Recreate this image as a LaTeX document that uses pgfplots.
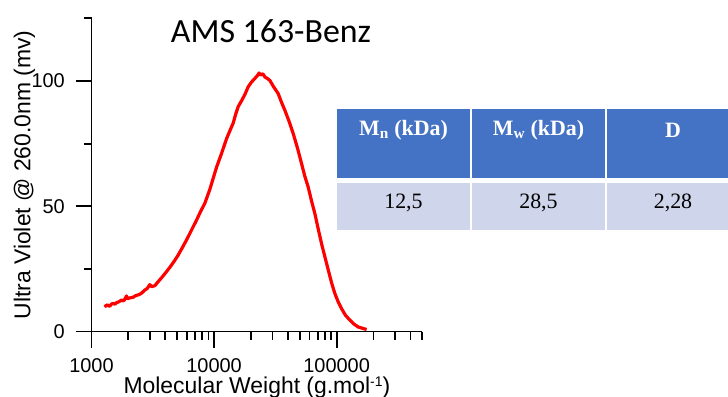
\documentclass[border=0pt]{standalone}
\usepackage{fontspec}
\setmainfont{Liberation Sans}
\newfontfamily\titlefont{Carlito}
\newfontfamily\tabfont{Liberation Serif}
\usepackage{pgfplots}
\pgfplotsset{compat=1.18}
\definecolor{hdr}{HTML}{4472C4}
\definecolor{rowc}{HTML}{CFD5EA}
\begin{document}
\begin{tikzpicture}
\path[use as bounding box] (0,0) rectangle (728bp,397bp);
\begin{axis}[
  at={(91.5bp,65.5bp)}, anchor=south west,
  scale only axis, width=330.8bp, height=313.1bp,
  xmode=log, xmin=1000, xmax=500000, ymin=0, ymax=125,
  axis x line*=bottom, axis y line*=left,
  axis line style={-, line width=1.8bp, shorten <=-16bp},
  tick align=outside,
  major tick length=16bp, minor tick length=8bp,
  every tick/.style={black, line width=1.8bp},
  xtick={1000,10000,100000},
  xticklabels={1000,10000,100000},
  minor xtick={2000,3000,4000,5000,6000,7000,8000,9000,20000,30000,40000,50000,60000,70000,80000,90000,200000,300000,400000,500000},
  ytick={0,50,100},
  yticklabels={0,50,100},
  minor ytick={25,75,125},
  ticklabel style={font=\fontsize{20}{20}\selectfont, inner sep=0pt},
  xticklabel style={yshift=-10.5bp},
  yticklabel style={xshift=-10.5bp},
  xlabel={Molecular Weight (g.mol\raisebox{6.5bp}{\fontsize{14}{14}\selectfont -1})},
  ylabel={Ultra Violet @ 260.0nm (mv)},
  label style={font=\fontsize{23}{23}\selectfont, inner sep=0pt},
  xlabel style={at={(rel axis cs:0.5,0)}, anchor=base, yshift=-61.5bp},
  ylabel style={at={(rel axis cs:0,0.5)}, anchor=center, rotate=0, yshift=67bp},
  clip=false,
]
\addplot[red, line width=3.2bp, line join=round] coordinates {
(1280,9.8) (1320,10.4) (1350,10.6) (1390,10.1) (1420,10.3) (1460,11.0) (1500,11.2) (1550,10.9) (1600,11.5) (1680,11.9)
(1760,12.6) (1800,12.2) (1850,12.5) (1930,14.2) (1970,13.1) (2010,13.3) (2100,13.5) (2190,13.7)
(2290,14.3) (2400,14.6) (2480,14.9) (2560,15.3) (2700,16.4) (2850,17.2) (2990,18.7)
(3100,17.9) (3290,18.3) (3500,19.9) (3750,21.6) (4095,23.9) (4400,25.9)
(4750,28.2) (5094,30.5) (5500,33.4) (5970,36.6) (6550,40.5) (7200,44.5)
(7800,48.1) (8410,51.2) (9245,56.8) (9800,60.9) (10480,65.6) (11510,71.1)
(12650,77.0) (13500,80.3) (14320,83.2) (15000,86.7) (15740,89.8) (16800,92.2)
(17830,94.6) (19000,97.7) (20220,99.6) (21500,101.0) (22600,102.2) (23300,103.2)
(24000,102.4) (25000,102.9) (26000,101.6) (27200,101.0) (28560,100.2) (30500,97.8)
(33350,95.0) (35500,91.5) (37810,88.3) (41000,83.8) (44240,79.0) (48000,73.1)
(51760,67.0) (55000,62.0) (58650,57.6) (62500,52.0) (66500,47.0) (71000,40.6)
(75400,35.0) (80500,29.5) (85400,24.6) (91000,19.4) (96800,15.1) (103000,11.8)
(109800,9.1) (118000,6.5) (128500,4.5) (139000,2.9) (150000,1.8) (162000,1.3)
(175700,0.8)
};
\end{axis}
% title
\node[anchor=base, font=\titlefont\fontsize{34}{34}\selectfont, inner sep=0pt] at (271bp,354.3bp) {AMS 163-Benz};
% table
\fill[hdr] (337bp,219bp) rectangle (470bp,288bp);
\fill[hdr] (472bp,219bp) rectangle (605bp,288bp);
\fill[hdr] (607bp,219bp) rectangle (740bp,288bp);
\fill[rowc] (337bp,167bp) rectangle (470bp,214bp);
\fill[rowc] (472bp,167bp) rectangle (605bp,214bp);
\fill[rowc] (607bp,167bp) rectangle (740bp,214bp);
\begin{scope}[every node/.style={inner sep=0pt, font=\tabfont\fontsize{22}{22}\selectfont}]
\node[white, font=\tabfont\bfseries\fontsize{22}{22}\selectfont] at (403.5bp,267bp) {M\textsubscript{n} (kDa)};
\node[white, font=\tabfont\bfseries\fontsize{22}{22}\selectfont] at (538.5bp,267bp) {M\textsubscript{w} (kDa)};
\node[white, font=\tabfont\bfseries\fontsize{22}{22}\selectfont] at (673bp,267bp) {D};
\node at (403.5bp,194bp) {12,5};
\node at (538.5bp,194bp) {28,5};
\node at (673bp,194bp) {2,28};
\end{scope}
\end{tikzpicture}
\end{document}
